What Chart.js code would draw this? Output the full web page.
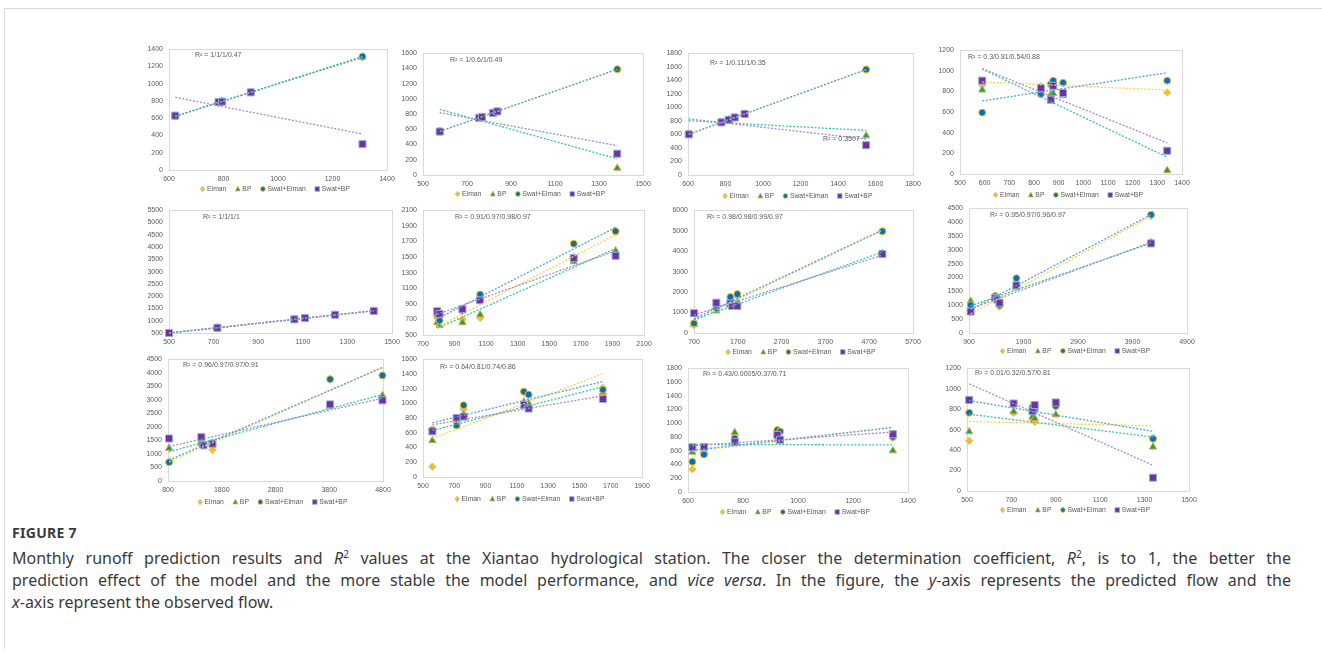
<!DOCTYPE html>
<html>
<head>
<meta charset="utf-8">
<script src="https://cdn.jsdelivr.net/npm/chart.js@4.4.1/dist/chart.umd.min.js"></script>
<style>
  body { margin: 0; background: #fff; width: 1322px; height: 652px; overflow: hidden; position: relative; font-family: "Noto Sans", sans-serif; }
  #frame { position: absolute; left: 4px; top: 8px; width: 1318px; height: 640px; border-top: 1px solid #d9d9d9; border-left: 1px solid #d9d9d9; }
  canvas { position: absolute; }
  #fig { position: absolute; left: 12px; top: 523px; font-size: 14px; font-weight: 700; color: #3a3a3a; letter-spacing: 0.3px; }
  #cap { position: absolute; left: 12px; top: 547px; width: 1279px; font-size: 16px; line-height: 22px; color: #3a3a3a; }
  #cap div { white-space: nowrap; }
  #cap .j { text-align: justify; text-align-last: justify; }
  #cap sup { font-size: 10px; line-height: 0; vertical-align: 6px; }
</style>
</head>
<body>
<div id="frame"></div>
<div id="fig">FIGURE 7</div>
<div id="cap">
  <div class="j">Monthly runoff prediction results and <i>R</i><sup>2</sup> values at the Xiantao hydrological station. The closer the determination coefficient, <i>R</i><sup>2</sup>, is to 1, the better the</div>
  <div class="j">prediction effect of the model and the more stable the model performance, and <i>vice versa</i>. In the figure, the <i>y</i>-axis represents the predicted flow and the</div>
  <div><i>x</i>-axis represent the observed flow.</div>
</div>

<script>
var names = ['Elman', 'BP', 'Swat+Elman', 'Swat+BP'];

// observed flow (x) and predicted flow (y) for each month
var obs1 = [623, 782, 795, 900, 1310];
var elman1 = [624, 781, 794, 901, 1305];
var bp1 = [625, 783, 796, 899, 1308];
var swatElman1 = [623, 782, 795, 900, 1316];
var swatBp1 = [630, 788, 792, 900, 300];

var obs2 = [576, 755, 768, 818, 838, 1383];
var elman2 = [572, 752, 765, 820, 836, 1385];
var bp2 = [570, 750, 760, 815, 835, 90];
var swatElman2 = [574, 754, 766, 818, 838, 1390];
var swatBp2 = [570, 750, 760, 815, 835, 280];

var obs3 = [604, 778, 817, 849, 902, 1550];
var elman3 = [602, 778, 815, 850, 900, 1555];
var bp3 = [600, 778, 816, 850, 902, 580];
var swatElman3 = [604, 778, 817, 849, 902, 1560];
var swatBp3 = [600, 778, 816, 850, 902, 440];

var obs4 = [590, 828, 868, 878, 918, 1340];
var elman4 = [860, 850, 875, 900, 880, 790];
var bp4 = [815, 800, 770, 780, 760, 35];
var swatElman4 = [595, 775, 870, 905, 885, 905];
var swatBp4 = [905, 835, 720, 855, 785, 225];

var obs5 = [500, 717, 1062, 1110, 1245, 1418];
var elman5 = [502, 714, 1058, 1106, 1243, 1402];
var bp5 = [498, 713, 1057, 1109, 1240, 1400];
var swatElman5 = [500, 712, 1056, 1108, 1241, 1399];
var swatBp5 = [500, 712, 1056, 1108, 1241, 1399];

var obs6 = [790, 805, 950, 1062, 1655, 1920];
var elman6 = [720, 690, 700, 720, 1500, 1840];
var bp6 = [660, 625, 660, 760, 1440, 1580];
var swatElman6 = [760, 685, 812, 1020, 1670, 1830];
var swatBp6 = [805, 770, 830, 945, 1485, 1515];

var obs7 = [700, 1210, 1530, 1570, 1690, 5000];
var elman7 = [380, 1150, 1650, 1400, 1800, 4950];
var bp7 = [420, 1080, 1400, 1350, 1500, 3900];
var swatElman7 = [475, 1200, 1760, 1450, 1900, 4970];
var swatBp7 = [970, 1480, 1440, 1320, 1320, 3860];

var obs8 = [930, 1380, 1410, 1460, 1770, 4240];
var elman8 = [800, 1280, 1200, 950, 1650, 4220];
var bp8 = [1150, 1300, 1250, 1100, 1650, 3260];
var swatElman8 = [1010, 1330, 1250, 1010, 1975, 4265];
var swatBp8 = [775, 1260, 1210, 1090, 1715, 3230];

var obs9 = [820, 1420, 1460, 1627, 3816, 4790];
var elman9 = [690, 1350, 1300, 1150, 3750, 3920];
var bp9 = [1210, 1400, 1350, 1400, 2770, 3160];
var swatElman9 = [695, 1380, 1330, 1350, 3760, 3900];
var swatBp9 = [1570, 1620, 1320, 1380, 2830, 2980];

var obs10 = [560, 715, 760, 1145, 1175, 1650];
var elman10 = [140, 740, 920, 1150, 1110, 1210];
var bp10 = [495, 720, 850, 1020, 1000, 1150];
var swatElman10 = [640, 700, 975, 1160, 1120, 1185];
var swatBp10 = [620, 800, 820, 980, 930, 1060];

var obs11 = [616, 658, 770, 925, 935, 1345];
var elman11 = [330, 580, 830, 890, 870, 790];
var bp11 = [580, 590, 865, 760, 740, 600];
var swatElman11 = [440, 545, 780, 900, 880, 800];
var swatBp11 = [650, 655, 725, 830, 760, 840];

var obs12 = [510, 710, 795, 805, 900, 1338];
var elman12 = [490, 765, 695, 675, 825, 520];
var bp12 = [580, 775, 725, 710, 745, 430];
var swatElman12 = [765, 850, 820, 800, 830, 510];
var swatBp12 = [890, 855, 780, 840, 865, 130];

// axis [min, max, step]
var xAxes = [[600, 1400, 200], [500, 1500, 200], [600, 1800, 200], [500, 1400, 100],
             [500, 1500, 200], [700, 2100, 200], [700, 5700, 1000], [900, 4900, 1000],
             [800, 4800, 1000], [500, 1900, 200], [600, 1400, 200], [500, 1500, 200]];
var yAxes = [[0, 1400, 200], [0, 1600, 200], [0, 1800, 200], [0, 1200, 200],
             [500, 5500, 500], [500, 2100, 200], [0, 6000, 1000], [0, 4500, 500],
             [0, 4500, 500], [0, 1600, 200], [0, 1800, 200], [0, 1200, 200]];

var r2Text = ['R² = 1/1/1/0.47', 'R² = 1/0.6/1/0.49', 'R² = 1/0.11/1/0.35', 'R² = 0.3/0.81/0.54/0.88',
              'R² = 1/1/1/1', 'R² = 0.91/0.97/0.98/0.97', 'R² = 0.98/0.98/0.99/0.97', 'R² = 0.95/0.97/0.96/0.97',
              'R² = 0.96/0.97/0.97/0.91', 'R² = 0.64/0.81/0.74/0.86', 'R² = 0.43/0.0005/0.37/0.71', 'R² = 0.01/0.32/0.57/0.81'];

var panels = [
  [obs1, elman1, bp1, swatElman1, swatBp1],
  [obs2, elman2, bp2, swatElman2, swatBp2],
  [obs3, elman3, bp3, swatElman3, swatBp3],
  [obs4, elman4, bp4, swatElman4, swatBp4],
  [obs5, elman5, bp5, swatElman5, swatBp5],
  [obs6, elman6, bp6, swatElman6, swatBp6],
  [obs7, elman7, bp7, swatElman7, swatBp7],
  [obs8, elman8, bp8, swatElman8, swatBp8],
  [obs9, elman9, bp9, swatElman9, swatBp9],
  [obs10, elman10, bp10, swatElman10, swatBp10],
  [obs11, elman11, bp11, swatElman11, swatBp11],
  [obs12, elman12, bp12, swatElman12, swatBp12]
];

// plot area on the page: left, top, right, bottom, legend y (0 = none), R² label x, y
var boxes = [
  [169, 46, 387, 170, 189, 195, 55],
  [423, 50, 643, 175, 194, 450, 60],
  [688, 50, 913, 175, 196, 710, 63],
  [960, 47, 1182, 174, 195, 968, 57],
  [169, 207, 392, 333, 0, 203, 217],
  [423, 207, 644, 335, 0, 455, 217],
  [694, 207, 913, 333, 352, 707, 217],
  [969, 205, 1187, 333, 351, 990, 215],
  [168, 356, 383, 481, 502, 183, 365],
  [423, 356, 642, 477, 499, 440, 367],
  [688, 365, 908, 492, 512, 703, 374],
  [967, 365, 1189, 491, 510, 975, 373]
];

var styles = [
  { shape: 'rectRot', radius: 3.8, fill: '#FFC000', edge: '#A9CCEB', trend: '#FFD34D', order: 4 },
  { shape: 'triangle', radius: 4.2, fill: '#00B050', edge: '#EE9A4D', trend: '#30C9A5', order: 3 },
  { shape: 'circle', radius: 3.5, fill: '#0070C0', edge: '#FFC000', trend: '#4DA3DB', order: 2 },
  { shape: 'rect', radius: 5, fill: '#7030A0', edge: '#8FB0DE', trend: '#A888D0', order: 1 }
];

var tickFont = { family: 'Liberation Sans', size: 7 };
var txtColor = '#595959';

// least squares trendline over the series' x range (as Excel draws it)
function trend(xs, ys) {
  var n = xs.length, mx = 0, my = 0, sxy = 0, sxx = 0;
  for (var i = 0; i < n; i++) { mx += xs[i] / n; my += ys[i] / n; }
  for (var i = 0; i < n; i++) { sxy += (xs[i] - mx) * (ys[i] - my); sxx += (xs[i] - mx) * (xs[i] - mx); }
  var b = sxy / sxx, a = my - b * mx;
  var lo = Math.min.apply(null, xs), hi = Math.max.apply(null, xs);
  return [{ x: lo, y: a + b * lo }, { x: hi, y: a + b * hi }];
}

function marker(ctx, shape, x, y, r) {
  ctx.beginPath();
  if (shape === 'circle') ctx.arc(x, y, r, 0, Math.PI * 2);
  else if (shape === 'rect') ctx.rect(x - r, y - r, 2 * r, 2 * r);
  else if (shape === 'triangle') { ctx.moveTo(x, y - r * 1.15); ctx.lineTo(x + r, y + r * 0.8); ctx.lineTo(x - r, y + r * 0.8); ctx.closePath(); }
  else { ctx.moveTo(x, y - r * 1.2); ctx.lineTo(x + r, y); ctx.lineTo(x, y + r * 1.2); ctx.lineTo(x - r, y); ctx.closePath(); }
  ctx.fill();
  ctx.stroke();
}

var excelPlot = {
  id: 'excelPlot',
  beforeDatasetsDraw: function (chart) {
    var a = chart.chartArea, ctx = chart.ctx;
    ctx.save();
    ctx.strokeStyle = '#d9d9d9';
    ctx.lineWidth = 1;
    ctx.strokeRect(Math.round(a.left) + 0.5, Math.round(a.top) + 0.5, Math.round(a.right - a.left), Math.round(a.bottom - a.top));
    ctx.restore();
  },
  afterDraw: function (chart, args, o) {
    var ctx = chart.ctx;
    ctx.save();
    ctx.fillStyle = txtColor;
    ctx.textBaseline = 'middle';
    ctx.font = '7px "Liberation Sans"';
    ctx.fillText(o.r2, o.r2x, o.r2y);
    if (o.extra) ctx.fillText(o.extra[0], o.extra[1], o.extra[2]);
    if (o.legendY) {
      ctx.font = '6.8px "Liberation Sans"';
      var w = names.map(function (n) { return 7 + ctx.measureText(n).width; });
      var total = w.reduce(function (s, v) { return s + v; }, 0) + 9 * (names.length - 1);
      var x = (chart.chartArea.left + chart.chartArea.right) / 2 - total / 2 - 3;
      names.forEach(function (n, i) {
        var s = styles[i];
        ctx.fillStyle = s.fill;
        ctx.strokeStyle = s.edge;
        ctx.lineWidth = 0.8;
        marker(ctx, s.shape, x + 2.5, o.legendY, s.shape === 'rect' ? 2.3 : 2.4);
        ctx.fillStyle = txtColor;
        ctx.fillText(n, x + 7, o.legendY + 0.5);
        x += w[i] + 9;
      });
    }
    ctx.restore();
  }
};

panels.forEach(function (p, k) {
  var b = boxes[k];
  var padL = 42, padT = 7, padR = 16;
  var cl = b[0] - padL, ct = b[1] - padT;
  var cw = b[2] - b[0] + padL + padR;
  var ch = (b[4] ? b[4] : b[3] + 14) + 7 - ct;
  var axisH = ch - padT - (b[3] - b[1]);

  var canvas = document.createElement('canvas');
  canvas.width = cw;
  canvas.height = ch;
  canvas.style.left = cl + 'px';
  canvas.style.top = ct + 'px';
  document.body.appendChild(canvas);

  var datasets = [];
  for (var s = 0; s < 4; s++) {
    var st = styles[s];
    var pts = p[0].map(function (x, i) { return { x: x, y: p[s + 1][i] }; });
    datasets.push({
      label: names[s],
      data: pts,
      pointStyle: st.shape,
      pointRadius: st.radius,
      pointBorderWidth: 1,
      backgroundColor: st.fill,
      borderColor: st.edge,
      order: st.order,
      clip: false
    });
  }
  for (var s = 0; s < 4; s++) {
    datasets.push({
      label: names[s] + ' trend',
      data: trend(p[0], p[s + 1]),
      showLine: true,
      pointRadius: 0,
      borderColor: styles[s].trend,
      borderWidth: 1.3,
      borderDash: [2, 1.6],
      order: -1 - s,
      clip: false
    });
  }

  var xa = xAxes[k], ya = yAxes[k];
  new Chart(canvas, {
    type: 'scatter',
    data: { datasets: datasets },
    plugins: [excelPlot],
    options: {
      responsive: false,
      animation: false,
      devicePixelRatio: 1,
      layout: { padding: { left: 0, top: padT, right: padR, bottom: 0 } },
      scales: {
        x: {
          type: 'linear', min: xa[0], max: xa[1],
          grid: { display: false, drawTicks: false },
          border: { display: true, color: '#d9d9d9' },
          ticks: { stepSize: xa[2], font: tickFont, color: txtColor, padding: 5, maxRotation: 0, autoSkip: false,
                   callback: function (v) { return String(v); } },
          afterFit: function (sc) { sc.height = axisH; }
        },
        y: {
          type: 'linear', min: ya[0], max: ya[1],
          grid: { display: false, drawTicks: false },
          border: { display: false },
          ticks: { stepSize: ya[2], font: tickFont, color: txtColor, padding: 6, autoSkip: false,
                   callback: function (v) { return String(v); } },
          afterFit: function (sc) { sc.width = padL; }
        }
      },
      plugins: {
        legend: { display: false },
        tooltip: { enabled: false },
        excelPlot: {
          r2: r2Text[k], r2x: b[5] - cl, r2y: b[6] - ct,
          legendY: b[4] ? b[4] - ct : 0,
          extra: k === 2 ? ['R² = 0.3507', 823 - cl, 139 - ct] : null
        }
      }
    }
  });
});
</script>
</body>
</html>
